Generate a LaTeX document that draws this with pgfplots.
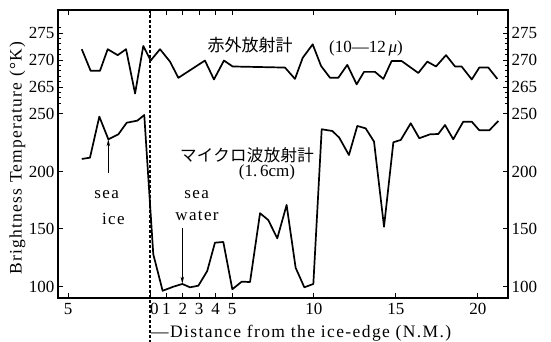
\documentclass[border=0pt]{standalone}
\usepackage{pgfplots}
\pgfplotsset{compat=1.18}
\usepackage{pgfplotstable}
\usepackage{fontspec}
\setmainfont{Liberation Serif}
\newfontfamily\cjk{Noto Sans CJK JP}
\usetikzlibrary{arrows.meta}

% Microwave radiometer (1.6 cm); distance in N.M., negative = inside the ice
\pgfplotstableread{
d T
-4.16 210.9
-3.66 212.0
-3.09 247.7
-2.54 228.0
-1.93 232.3
-1.42 242.4
-0.77 244.2
-0.35 249.1
0.20 128.0
0.77 96.3
1.42 99.8
1.97 102.2
2.44 99.3
2.95 100.7
3.49 113.5
3.96 138.1
4.47 138.7
5.02 97.6
5.59 104.2
6.10 103.9
6.71 163.7
7.21 157.8
7.76 141.9
8.33 170.9
8.88 116.3
9.41 99.3
9.96 102.2
10.47 236.7
11.12 235.2
11.54 229.4
12.13 214.3
12.64 239.6
13.15 237.5
13.66 226.0
14.27 152.0
14.84 225.4
15.29 227.4
15.90 241.9
16.42 228.9
17.07 232.3
17.58 232.6
17.99 240.4
18.49 228.0
19.10 243.3
19.62 243.3
20.08 235.8
20.69 235.8
21.24 243.9
}\microwave

% Infrared radiometer (10-12 micron)
\pgfplotstableread{
d T
-4.16 272.0
-3.62 268.0
-3.05 268.0
-2.58 272.0
-1.97 270.9
-1.46 272.0
-0.91 263.8
-0.41 272.6
0.04 269.9
0.61 272.0
1.22 269.7
1.73 266.7
3.35 269.9
3.90 266.4
4.51 269.9
5.04 268.8
8.23 268.6
8.84 266.5
9.31 270.4
9.92 272.9
10.43 268.9
10.98 266.7
11.48 266.7
12.03 269.1
12.60 265.5
13.05 267.8
13.72 267.8
14.23 266.5
14.73 269.8
15.35 269.8
16.36 267.6
16.91 269.7
17.44 268.8
18.05 270.9
18.60 268.8
19.00 268.8
19.62 266.4
20.08 268.6
20.63 268.6
21.18 266.5
}\infrared

\pgfplotsset{
  base/.style={
    scale only axis, width=450pt, height=288pt,
    at={(58pt,-298pt)}, anchor=south west,
    xmin=-5.61, xmax=21.83,
    clip=false,
    tick align=inside,
    tick style={line width=1pt, black},
    major tick length=5pt, minor tick length=3pt,
    ticklabel style={font=\fontsize{17}{18}\selectfont},
    /pgf/number format/assume math mode=true,
  },
  bare/.style={
    base,
    axis line style={draw=none},
    xtick=\empty,
  },
  curve/.style={black, line width=1.7pt, line join=round, no marks},
}

\begin{document}
\begin{tikzpicture}[x=1pt,y=1pt]
\useasboundingbox (0,0) rectangle (551,-342);

% lower scale: microwave brightness temperature
\begin{axis}[base,
  ymin=90, ymax=340.4,
  axis line style={line width=1.3pt},
  xtick={-5,0,1,2,3,4,5,10,15,20},
  xticklabels={5,\rlap{0},1,2,3,4,5,10,15,20},
  xtick pos=both,
  xticklabel style={yshift=-2pt},
  ytick={100,150,200,250}, yticklabels={100,150,200,250},
  ytick pos=both, yticklabel pos=left,
  yticklabel style={xshift=0pt},
]
\addplot[curve] table[x=d, y=T] {\microwave};
\draw[line width=1pt, -{Stealth[length=7pt,width=3.5pt]}]
  (axis cs:-2.54,198.7) -- (axis cs:-2.54,228);
\draw[line width=1pt, -{Stealth[length=7pt,width=3.5pt]}]
  (axis cs:1.97,151) -- (axis cs:1.97,102.5);
\end{axis}
\begin{axis}[bare,
  ymin=90, ymax=340.4,
  ytick={100,150,200,250}, yticklabels={100,150,200,250},
  ytick pos=right, yticklabel pos=right, major tick length=0pt,
]
\end{axis}

% upper scale: infrared brightness temperature
\begin{axis}[bare,
  ymin=225.93, ymax=279.26,
  ytick={265,270,275}, yticklabels={265,270,275},
  minor ytick={262,263,...,276},
  ytick pos=both, yticklabel pos=left,
]
\addplot[curve] table[x=d, y=T] {\infrared};
\end{axis}
\begin{axis}[bare,
  ymin=225.93, ymax=279.26,
  ytick={265,270,275}, yticklabels={265,270,275},
  ytick pos=right, yticklabel pos=right, major tick length=0pt,
]
\end{axis}

% ice edge
\draw[line width=1.2pt, dash pattern=on 3pt off 2pt] (150,-10) -- (150,-342);

% labels
\node[font=\cjk\fontsize{17}{17}\selectfont] at (250,-45) {赤外放射計};
\node[font=\fontsize{17}{17}\selectfont] at (366,-48) {(10---12\,\textit{μ})};
\node[font=\cjk\fontsize{16.5}{16.5}\selectfont\addfontfeature{LetterSpace=2}] at (247,-155) {マイクロ波放射計};
\node[font=\fontsize{17}{17}\selectfont] at (267,-172) {(1.\,6cm)};
\node[font=\fontsize{17}{17}\selectfont\addfontfeature{LetterSpace=8}] at (106.7,-194.3) {sea};
\node[font=\fontsize{17}{17}\selectfont\addfontfeature{LetterSpace=8}] at (113.3,-219) {ice};
\node[font=\fontsize{17}{17}\selectfont\addfontfeature{LetterSpace=8}] at (196.7,-194.3) {sea};
\node[font=\fontsize{17}{17}\selectfont\addfontfeature{LetterSpace=8}] at (197,-216) {water};
\node[font=\fontsize{17.5}{17.5}\selectfont\addfontfeature{LetterSpace=8}, anchor=west, inner sep=0pt] at (151,-333) {---Distance from the ice-edge (N.M.)};
\node[font=\fontsize{17.5}{17.5}\selectfont\addfontfeature{LetterSpace=7}, rotate=90] at (17.5,-158) {Brightness Temperature (°K)};
\end{tikzpicture}
\end{document}
